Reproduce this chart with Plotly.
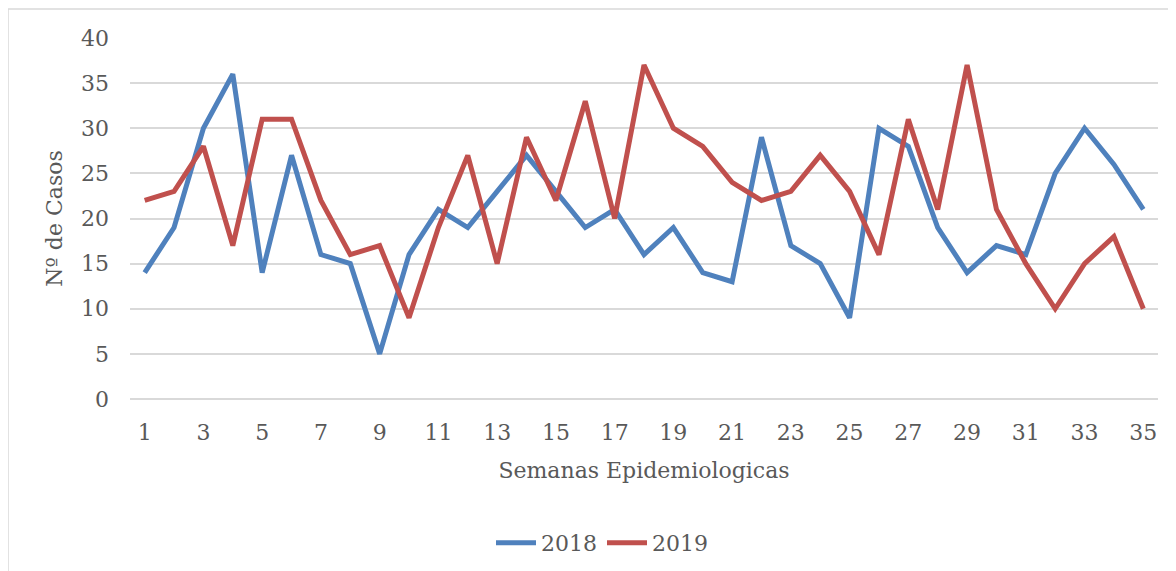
import plotly.graph_objects as go

weeks = list(range(1, 36))
cases_2018 = [14, 19, 30, 36, 14, 27, 16, 15, 5, 16, 21, 19, 23, 27, 23, 19, 21, 16, 19, 14,
              13, 29, 17, 15, 9, 30, 28, 19, 14, 17, 16, 25, 30, 26, 21]
cases_2019 = [22, 23, 28, 17, 31, 31, 22, 16, 17, 9, 19, 27, 15, 29, 22, 33, 20, 37, 30, 28,
              24, 22, 23, 27, 23, 16, 31, 21, 37, 21, 15, 10, 15, 18, 10]
x_ticks = list(range(1, 36, 2))
y_ticks = list(range(0, 41, 5))

FONT = "DejaVu Serif"
TXT = "#595959"
FS = 22

fig = go.Figure()
fig.add_trace(go.Scatter(x=weeks, y=cases_2018, mode="lines", name="2018",
                         line=dict(color="#4F81BD", width=5)))
fig.add_trace(go.Scatter(x=weeks, y=cases_2019, mode="lines", name="2019",
                         line=dict(color="#C0504D", width=5)))

W, H = 1168, 563
L, R, T, B = 122, 18, 30, 172
pw, ph = W - L - R, H - T - B

fig.update_layout(
    width=W, height=H,
    margin=dict(l=L, r=R, t=T, b=B, autoexpand=False),
    paper_bgcolor="white", plot_bgcolor="white",
    font=dict(family=FONT, color=TXT, size=FS),
    showlegend=True,
    legend=dict(orientation="h", xref="container", yref="container",
                x=594 / W, xanchor="center", y=(H - 535) / H, yanchor="middle",
                font=dict(size=FS, color=TXT), itemwidth=40),
    xaxis=dict(range=[0.5, 35.5], tickmode="array", tickvals=x_ticks,
               showgrid=False, zeroline=False, showline=False, ticks="",
               ticklabelstandoff=18, automargin=False,
               title=dict(text="Semanas Epidemiologicas", standoff=18,
                          font=dict(size=FS, color=TXT))),
    yaxis=dict(range=[0, 40], tickmode="array", tickvals=y_ticks,
               showgrid=True, gridcolor="#D9D9D9", gridwidth=1.5,
               zeroline=True, zerolinecolor="#D9D9D9", zerolinewidth=1.5,
               showline=False, ticks="", ticklabelstandoff=20, automargin=False,
               title=dict(text="Nº de Casos", standoff=12,
                          font=dict(size=FS, color=TXT))),
    shapes=[dict(type="rect", xref="paper", yref="paper",
                 x0=-L / pw, x1=1.05, y0=-0.6, y1=1 + (T - 1) / ph,
                 line=dict(color="#D9D9D9", width=1.5), fillcolor="rgba(0,0,0,0)",
                 layer="below")],
)

fig.write_html("out.html")
